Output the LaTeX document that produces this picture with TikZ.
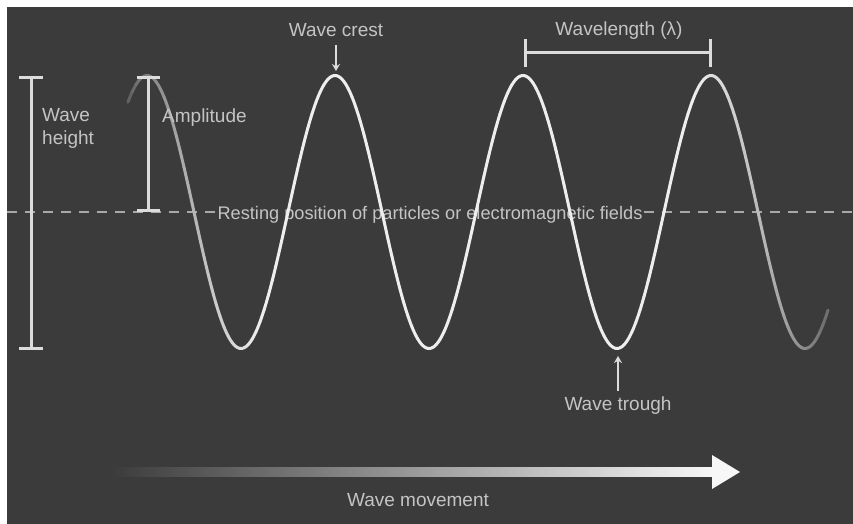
\documentclass[tikz,border=0pt]{standalone}
\usepackage{fontspec}
\setmainfont{Liberation Sans}
\usetikzlibrary{arrows.meta}
\definecolor{bg}{HTML}{3B3B3B}
\definecolor{wavec}{HTML}{EEEEEE}
\definecolor{txt}{HTML}{C4C4C4}
\definecolor{barc}{HTML}{DCDCDC}
\definecolor{dashc}{HTML}{A8A8A8}
\begin{document}
\begin{tikzpicture}[x=1pt,y=-1pt,
  lab/.style={text=txt, font=\fontsize{19}{23}\selectfont, inner sep=1pt},
  wave/.style={line width=3pt, line cap=round, line join=round},
  measure/.style={draw=barc, line width=3pt},
  pointer/.style={draw=barc, line width=2pt, -{Stealth[length=7pt,width=8pt]}},
  restline/.style={draw=dashc, line width=2pt, dash pattern=on 10pt off 8pt}]
\useasboundingbox (0,0) rectangle (853,524);
\fill[white] (0,0) rectangle (853,524);
\fill[bg] (7,7) rectangle (853,524);

% resting line with label
\node[lab, font=\fontsize{18.2}{22}\selectfont] (rest) at (430,215) {Resting position of particles or electromagnetic fields};
\coordinate (restL) at (7,212);
\coordinate (restR) at (853,212);
\draw[restline] (restL) -- (rest.west |- restL);
\draw[restline] (rest.east |- restR) -- (restR);

% wave with faded ends
\foreach \a in {128,132,...,824} {
  \pgfmathsetmacro\b{\a+4}
  \pgfmathsetmacro\m{\a+2}
  \pgfmathsetmacro\q{max(0.01,min(1,(\m-118)/142,(845-\m)/150))}
  \pgfmathtruncatemacro\p{100*pow(\q,0.6)}
  \draw[wave, color=wavec!\p!bg] plot[domain=\a:\b, samples=4, smooth] (\x,{212-136.5*cos((\x-147)*1.914894)});
}

% wave height
\coordinate (hTop) at (31,76);
\coordinate (hBot) at (31,350);
\draw[measure, {Bar[width=24pt]}-{Bar[width=24pt]}] (hTop) -- (hBot);
\node[lab, anchor=north west, align=left] (height) at (41,107) {Wave\\height};

% amplitude
\coordinate (aTop) at (148,76);
\coordinate (aBot) at (148,212);
\draw[measure, {Bar[width=23pt]}-{Bar[width=23pt]}] (aTop) -- (aBot);
\node[lab, anchor=west] (amp) at (161,118) {Amplitude};

% crest
\node[lab] (crest) at (336,30) {Wave crest};
\coordinate (crestpt) at (336,71);
\draw[pointer] (336,45) -- (crestpt);

% wavelength
\node[lab] (wl) at (619,31) {Wavelength (λ)};
\coordinate (wlL) at (524,53);
\coordinate (wlR) at (712,53);
\draw[measure, {Bar[width=28pt]}-{Bar[width=28pt]}] (wlL) -- (wlR);

% trough
\node[lab] (trough) at (618,406) {Wave trough};
\coordinate (troughpt) at (618,356);
\draw[pointer] (trough.north) ++(0,-5) -- (troughpt);

% wave movement
\coordinate (mvL) at (110,472);
\coordinate (mvR) at (740,472);
\shade[left color=bg, right color=white!94!gray] (110,467.5) rectangle (714,476.5);
\fill[white!94!gray] (712,455) -- (mvR) -- (712,489) -- cycle;
\node[lab] (move) at (418,500) {Wave movement};
\end{tikzpicture}
\end{document}
